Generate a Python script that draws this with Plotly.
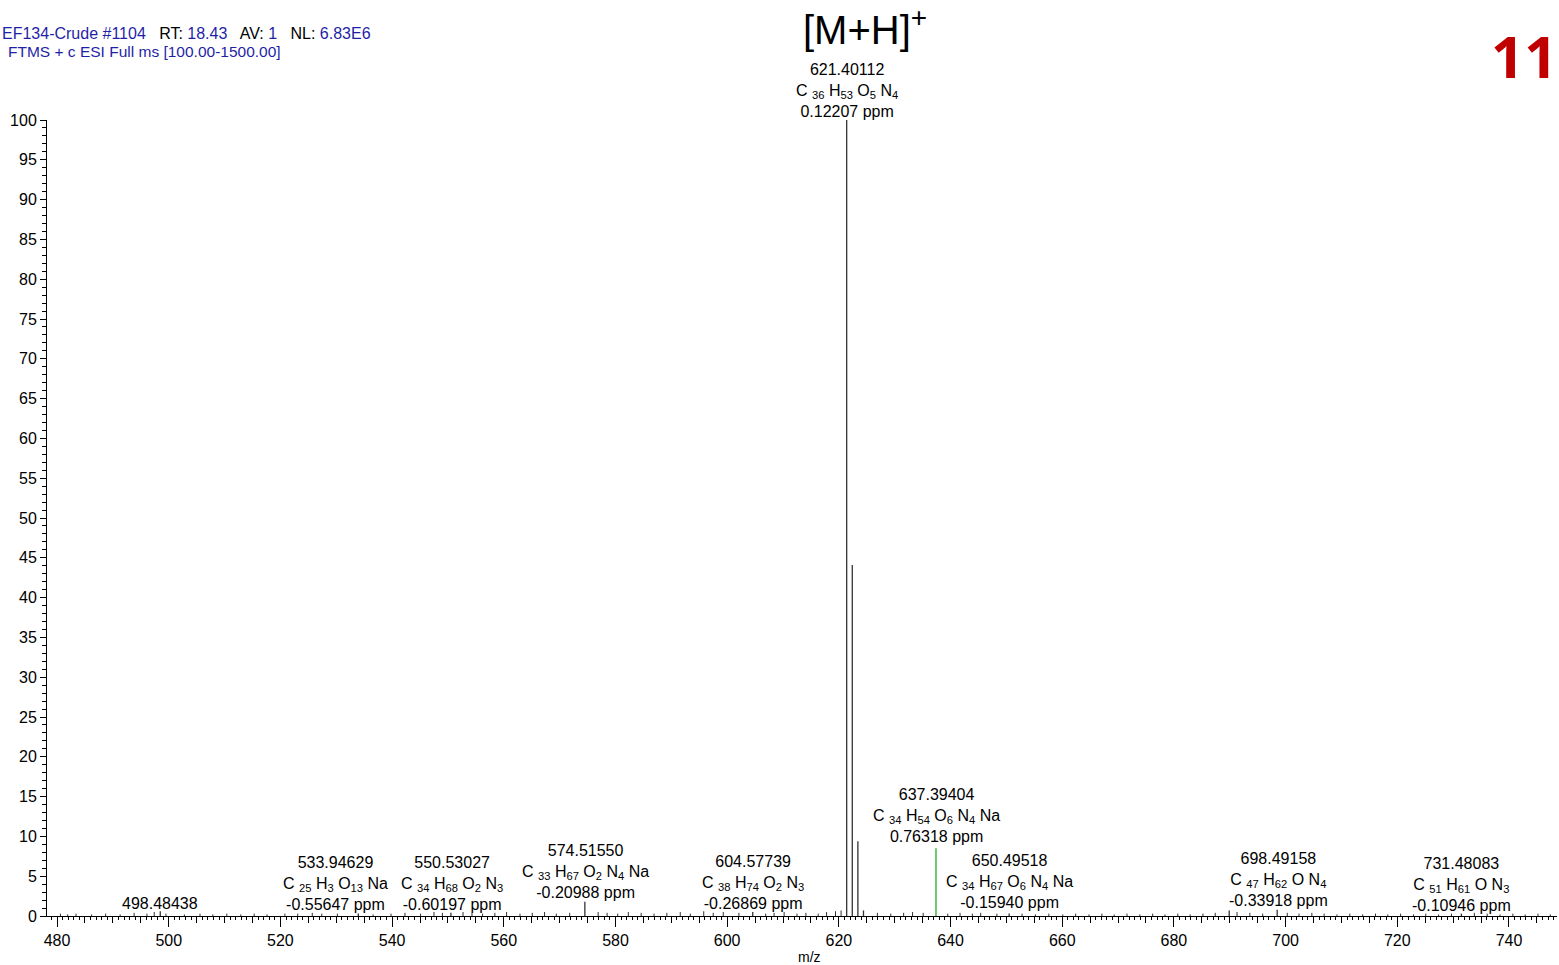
import re
import plotly.graph_objects as go

# main centroid peaks (m/z, relative abundance %)
peak_mz = [498.48438, 533.94629, 550.53027, 574.51550, 604.57739, 621.40112,
           622.40440, 623.40770, 624.41100, 650.49518, 689.90, 698.49158, 731.48083]
peak_ab = [0.6, 0.3, 0.4, 1.8, 0.5, 100.0, 44.1, 9.4, 0.7, 0.3, 0.7, 0.8, 0.3]

# the highlighted (green) peak
green_mz = [637.39404]
green_ab = [8.5]

# small baseline peaks
noise_mz = [480.6, 481.9, 483.4, 486.2, 488.7, 491.3, 493.8, 496.1, 497.4, 499.5,
            502.8, 505.6, 507.9, 510.4, 512.9, 515.3, 517.6, 520.8, 523.1, 525.7,
            527.4, 530.2, 536.6, 539.8, 542.3, 545.1, 547.5, 549.0, 552.7, 554.3,
            556.2, 558.4, 560.5, 562.9, 565.1, 567.3, 569.4, 571.8, 576.9, 578.5,
            580.4, 582.3, 584.6, 586.9, 589.2, 591.6, 593.4, 595.8, 597.5, 599.3,
            602.1, 606.9, 608.4, 610.2, 612.5, 614.1, 616.3, 617.8, 619.4, 620.4,
            626.9, 629.3, 631.6, 633.2, 635.1, 639.5, 641.7, 643.9, 645.4, 648.3,
            652.8, 655.2, 657.6, 660.1, 662.4, 664.8, 667.1, 669.3, 671.6, 673.9,
            676.2, 678.4, 680.7, 682.9, 685.2, 687.4, 691.3, 693.6, 695.9, 700.3,
            702.4, 704.7, 706.9, 709.2, 711.5, 713.8, 716.1, 718.3, 720.6, 722.9,
            725.1, 727.4, 729.7, 733.8, 736.1, 738.4, 740.7, 742.9, 745.2, 747.4]
noise_ab = [0.3, 0.2, 0.3, 0.2, 0.3, 0.2, 0.4, 0.3, 0.5, 0.3,
            0.2, 0.3, 0.2, 0.3, 0.2, 0.3, 0.2, 0.3, 0.3, 0.4,
            0.3, 0.3, 0.2, 0.3, 0.4, 0.3, 0.5, 0.4, 0.5, 0.4,
            0.3, 0.4, 0.5, 0.3, 0.4, 0.5, 0.3, 0.4, 0.5, 0.4,
            0.3, 0.5, 0.4, 0.3, 0.4, 0.5, 0.3, 0.6, 0.4, 0.5,
            0.4, 0.3, 0.4, 0.5, 0.3, 0.4, 0.3, 0.5, 0.6, 0.7,
            0.4, 0.3, 0.4, 0.5, 0.4, 0.3, 0.4, 0.3, 0.4, 0.3,
            0.3, 0.2, 0.3, 0.2, 0.3, 0.2, 0.3, 0.2, 0.3, 0.2,
            0.3, 0.2, 0.3, 0.2, 0.3, 0.4, 0.5, 0.4, 0.3, 0.4,
            0.3, 0.4, 0.3, 0.2, 0.3, 0.2, 0.3, 0.2, 0.3, 0.2,
            0.3, 0.2, 0.3, 0.4, 0.3, 0.2, 0.3, 0.2, 0.3, 0.2]

# peak labels
lab_mz = ["498.48438", "533.94629", "550.53027", "574.51550", "604.57739",
          "621.40112", "637.39404", "650.49518", "698.49158", "731.48083"]
lab_formula = ["", "C25 H3 O13 Na", "C34 H68 O2 N3", "C33 H67 O2 N4 Na", "C38 H74 O2 N3",
               "C36 H53 O5 N4", "C34 H54 O6 N4 Na", "C34 H67 O6 N4 Na", "C47 H62 O N4", "C51 H61 O N3"]
lab_ppm = ["", "-0.55647", "-0.60197", "-0.20988", "-0.26869",
           "0.12207", "0.76318", "-0.15940", "-0.33918", "-0.10946"]
lab_x = [498.44, 529.78, 550.73, 574.55, 604.63, 621.46, 637.40, 650.47, 698.64, 731.58]
lab_y = [0.5, 0.4, 0.4, 1.9, 0.5, 100.0, 8.9, 0.6, 0.9, 0.3]

x_ticks = list(range(480, 741, 20))
y_ticks = list(range(0, 101, 5))

FONT = "Liberation Sans, Arial, sans-serif"
BLUE = "#1f1fa8"


def sticks(xs, ys):
    px, py = [], []
    for x, y in zip(xs, ys):
        px += [x, x, None]
        py += [0, y, None]
    return px, py


def fmt_formula(f):
    parts = []
    for tok in f.split():
        m = re.match(r"([A-Z][a-z]?)(\d*)", tok)
        el, n = m.group(1), m.group(2)
        if n:
            sep = " " if el == "C" else ""
            parts.append(f"{el}{sep}<sub>{n}</sub>")
        else:
            parts.append(el)
    return " ".join(parts)


fig = go.Figure()

nx, ny = sticks(noise_mz, noise_ab)
fig.add_trace(go.Scatter(x=nx, y=ny, mode="lines", line=dict(color="#333333", width=1),
                         hoverinfo="skip", showlegend=False))
bx, by = sticks(peak_mz, peak_ab)
fig.add_trace(go.Scatter(x=bx, y=by, mode="lines", line=dict(color="#333333", width=1.3),
                         showlegend=False))
gx, gy = sticks(green_mz, green_ab)
fig.add_trace(go.Scatter(x=gx, y=gy, mode="lines", line=dict(color="#22aa22", width=1.3),
                         showlegend=False))

annotations = []
for m, f, p, x, y in zip(lab_mz, lab_formula, lab_ppm, lab_x, lab_y):
    lines = [m]
    if f:
        lines.append(fmt_formula(f))
    if p:
        lines.append(p + " ppm")
    annotations.append(dict(x=x, y=y, xref="x", yref="y", text="<br>".join(lines),
                            showarrow=False, xanchor="center", yanchor="bottom", yshift=-2,
                            font=dict(family=FONT, size=16, color="black")))

# header
annotations.append(dict(
    x=0, y=1, xref="paper", yref="paper", xshift=-47, yshift=87,
    xanchor="left", yanchor="middle", align="left", showarrow=False,
    text=(f"<span style='color:{BLUE}'>EF134-Crude #1104</span>   RT: "
          f"<span style='color:{BLUE}'>18.43</span>   AV: "
          f"<span style='color:{BLUE}'>1</span>   NL: "
          f"<span style='color:{BLUE}'>6.83E6</span>"),
    font=dict(family=FONT, size=16, color="black")))
annotations.append(dict(
    x=0, y=1, xref="paper", yref="paper", xshift=-41, yshift=69,
    xanchor="left", yanchor="middle", align="left", showarrow=False,
    text="FTMS + c ESI Full ms [100.00-1500.00]",
    font=dict(family=FONT, size=15.5, color=BLUE)))
annotations.append(dict(
    x=624.7, y=1, xref="x", yref="paper", yshift=93, xanchor="center", yanchor="middle",
    showarrow=False, text="[M+H]<sup>+</sup>",
    font=dict(family=FONT, size=40, color="black")))
annotations.append(dict(
    x=1, y=1, xref="paper", yref="paper", xshift=2, yshift=65, xanchor="right",
    yanchor="middle", showarrow=False, text="<b>11</b>",
    font=dict(family="Open Sans, sans-serif", size=58, color="#c00000")))
annotations.append(dict(
    x=614.8, y=0, xref="x", yref="paper", yshift=-41, xanchor="center", yanchor="middle",
    showarrow=False, text="m/z", font=dict(family=FONT, size=14, color="black")))

fig.update_layout(
    width=1559, height=965,
    margin=dict(l=47, r=2, t=120, b=49),
    plot_bgcolor="white", paper_bgcolor="white",
    showlegend=False,
    annotations=annotations,
    xaxis=dict(range=[478.2, 748.6], tickvals=x_ticks, ticks="outside", ticklen=10,
               tickcolor="black", showline=True, linecolor="black", linewidth=1,
               showgrid=False, zeroline=False,
               tickfont=dict(family=FONT, size=16, color="black"),
               minor=dict(dtick=1, tick0=0, ticks="outside", ticklen=3, tickcolor="black")),
    xaxis2=dict(matches="x", overlaying="x", anchor="y", side="bottom", dtick=5, tick0=0,
                ticks="outside", ticklen=6, tickcolor="black", showticklabels=False,
                showgrid=False, zeroline=False, showline=False),
    yaxis=dict(range=[0, 100], tickvals=y_ticks, ticks="outside", ticklen=6,
               tickcolor="black", showline=True, linecolor="black", linewidth=1,
               showgrid=False, zeroline=False,
               tickfont=dict(family=FONT, size=16, color="black"),
               minor=dict(dtick=1, tick0=0, ticks="outside", ticklen=4, tickcolor="black")),
)
# empty trace so xaxis2 is drawn
fig.add_trace(go.Scatter(x=[None], y=[None], xaxis="x2", yaxis="y", showlegend=False))

# drop the browser's default body margin so the figure sits at the page corner
fig.write_html("out.html", config={"displayModeBar": False},
               post_script="document.body.style.margin='0';")
